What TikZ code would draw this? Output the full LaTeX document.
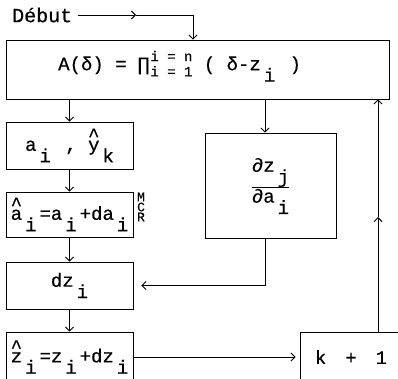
\documentclass[tikz,border=0pt]{standalone}
\usepackage{fontspec}
\setmainfont{Liberation Mono}[FakeBold=0.5]
\usetikzlibrary{arrows.meta}
\newcommand{\lowr}[1]{\hspace{3pt}\raisebox{-0.6em}{#1}\hspace{3pt}}
\newcommand{\hatted}[1]{\makebox[0pt][l]{\raisebox{0.5em}{\textasciicircum}}#1}
\newcommand{\lims}[2]{{\fontsize{14}{16}\selectfont\renewcommand{\arraystretch}{0.95}\raisebox{1pt}{\begin{tabular}{@{}l@{}}#1\\#2\end{tabular}}}}
\setlength{\arrayrulewidth}{0.8pt}
\begin{document}
\begin{tikzpicture}[x=1pt,y=-1pt,
  box/.style={draw, line width=0.9pt, rectangle, inner sep=0pt, font=\fontsize{19}{21}\selectfont},
  txt/.style={inner sep=0pt, font=\fontsize{19}{21}\selectfont},
  arr/.style={line width=0.9pt, -{Straight Barb[length=4pt,width=8pt]}},
  ln/.style={line width=0.9pt}]
\useasboundingbox (0,0) rectangle (398,378);
\node[txt, anchor=west, font=\fontsize{20}{22}\selectfont] (debut) at (12,15) {Début};
\node[box, minimum width=383pt, minimum height=59pt] (A) at (197.5,69.5) {};
\node[txt, anchor=west] (Atext) at (58,66) {A(δ)~=~∏\hspace{1pt}\lims{i = n}{i = 1}~(~δ-z\lowr{i}~)};
\node[box, minimum width=127pt, minimum height=47pt] (ai) at (69.5,145.5) {a\lowr{i}~,~\hatted{y}\lowr{k}};
\node[box, minimum width=127pt, minimum height=45pt] (ah) at (69.5,214.5) {\hatted{a}\lowr{i}=a\lowr{i}+da\lowr{i}};
\node[inner sep=0pt, font=\fontsize{13}{10}\selectfont, align=center] (mcr) at (141,207) {M\\C\\R};
\node[box, minimum width=127pt, minimum height=47pt] (dz) at (69.5,285.5) {dz\lowr{i}};
\node[box, minimum width=127pt, minimum height=50pt] (zh) at (69.5,357) {\hatted{z}\lowr{i}=z\lowr{i}+dz\lowr{i}};
\node[box, minimum width=131pt, minimum height=105pt] (dp) at (270.5,185.5) {\begin{tabular}{@{}c@{}}∂z\lowr{j}\\\hline ∂a\lowr{i}\end{tabular}};
\node[box, minimum width=102pt, minimum height=50pt] (k1) at (351,357) {k\hspace{19pt}+\hspace{19pt}1};
\coordinate (dm) at (136,15);
\coordinate (dc) at (193,15);
\coordinate (dx) at (265,0);
\coordinate (rx) at (378,0);
\coordinate (rm) at (378,217);
\draw[arr] (debut.east) ++(6,0) -- (dm);
\draw[arr] (dm) -- (dc) -- (A.north -| dc);
\draw[arr] (A.south -| ai.north) -- (ai.north);
\draw[arr] (ai.south) -- (ah.north);
\draw[arr] (ah.south) -- (dz.north);
\draw[arr] (dz.south) -- (zh.north);
\draw[arr] (A.south -| dx) -- (dp.north -| dx);
\draw[arr, shorten >=8pt] (dp.south -| dx) |- (dz.east);
\draw[arr, shorten >=4pt] (zh.east) -- (k1.west);
\draw[arr] (k1.north -| rx) -- (rm);
\draw[arr] (rm) -- (A.south -| rx);
\end{tikzpicture}
\end{document}
